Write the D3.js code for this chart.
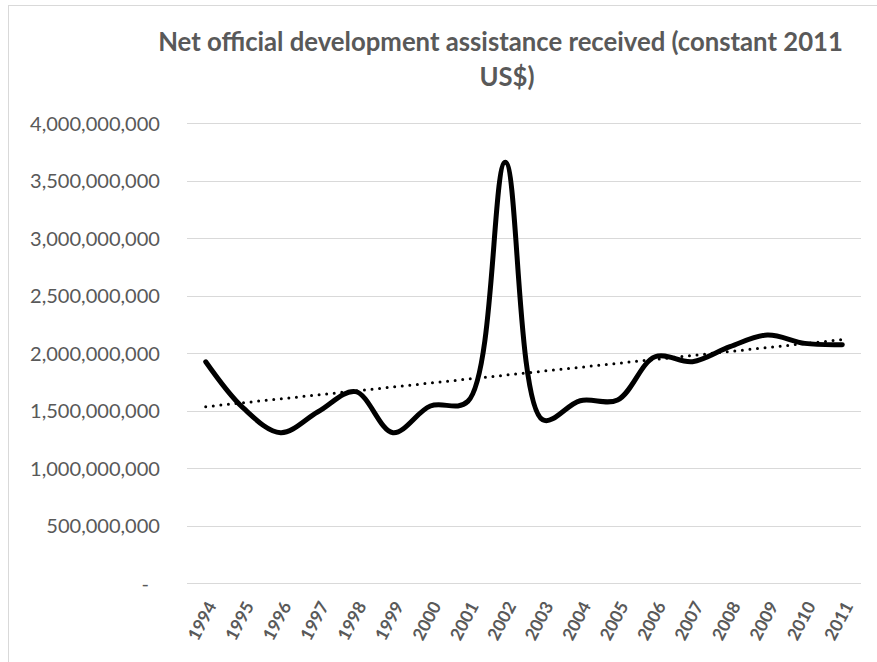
<!DOCTYPE html>
<html>
<head>
<meta charset="utf-8">
<script src="https://cdn.jsdelivr.net/npm/d3@7"></script>
<style>
  html, body { margin: 0; padding: 0; background: #fff; }
  svg { display: block; font-family: Lato, "Open Sans", sans-serif; }
</style>
</head>
<body>
<svg id="chart" width="877" height="662"></svg>
<script>
// Net ODA received, constant 2011 US$
const years = ["1994","1995","1996","1997","1998","1999","2000","2001","2002",
               "2003","2004","2005","2006","2007","2008","2009","2010","2011"];
const odaValues = [1925e6, 1523e6, 1308e6, 1490e6, 1665e6, 1308e6, 1540e6, 1580e6, 3660e6,
                   1420e6, 1586e6, 1592e6, 1969e6, 1926e6, 2056e6, 2158e6, 2085e6, 2074e6];
const yTicks = [0, 500e6, 1000e6, 1500e6, 2000e6, 2500e6, 3000e6, 3500e6, 4000e6];
const titleLines = ["Net official development assistance received (constant 2011", "US$)"];

const svg = d3.select("#chart");
const textColor = "#595959";
const fontFam = "Lato, 'Open Sans', sans-serif";

// chart area border
svg.append("rect")
  .attr("x", 8.5).attr("y", 5.5)
  .attr("width", 900).attr("height", 700)
  .attr("fill", "#fff").attr("stroke", "#d9d9d9").attr("stroke-width", 1);

const plot = { left: 187, right: 861, top: 123.3, bottom: 583 };

const x = d3.scaleBand().domain(years).range([plot.left, plot.right]);
const xc = d => x(d) + x.bandwidth() / 2;
const y = d3.scaleLinear().domain([0, 4000e6]).range([plot.bottom, plot.top]);

// gridlines
svg.append("g")
  .selectAll("line").data(yTicks).join("line")
  .attr("x1", plot.left).attr("x2", plot.right)
  .attr("y1", d => Math.round(y(d)) + 0.5).attr("y2", d => Math.round(y(d)) + 0.5)
  .attr("stroke", "#d9d9d9").attr("stroke-width", 1);

// y axis labels
const fmt = d3.format(",");
const yAxis = d3.axisLeft(y).tickValues(yTicks)
  .tickSize(0).tickPadding(0)
  .tickFormat(d => d === 0 ? "-" : fmt(d));
const yG = svg.append("g").attr("transform", `translate(160,0)`).call(yAxis);
yG.attr("font-family", null).attr("font-size", null);
yG.select(".domain").remove();
yG.selectAll("text")
  .style("fill", textColor)
  .style("font-family", fontFam)
  .style("font-size", "16px")
  .attr("dy", "0.35em");
// fit label width
{
  const node = yG.selectAll("text").filter(d => d === 4000e6).node();
  const w = node.getComputedTextLength();
  yG.selectAll("text").style("font-size", (16 * 130 / w) + "px");
}
yG.selectAll("text").filter(d => d === 0).attr("dx", -11);

// x axis labels, rotated
const xAxis = d3.axisBottom(x).tickSize(0).tickPadding(0);
const xG = svg.append("g").attr("transform", `translate(0,${plot.bottom})`).call(xAxis);
xG.attr("font-family", null).attr("font-size", null);
xG.select(".domain").remove();
xG.selectAll("text")
  .style("fill", textColor)
  .style("font-size", "17.5px")
  .style("font-weight", "bold")
  .style("font-family", fontFam)
  .attr("text-anchor", "end")
  .attr("y", 0)
  .attr("dy", "0.35em")
  .attr("transform", "translate(6,20) rotate(-62)");

// linear trend (least squares over category index)
const n = odaValues.length;
const idx = d3.range(n);
const mx = d3.mean(idx), my = d3.mean(odaValues);
const slope = d3.sum(idx, i => (i - mx) * (odaValues[i] - my)) / d3.sum(idx, i => (i - mx) ** 2);
const intercept = my - slope * mx;
const trend = idx.map(i => intercept + slope * i);

svg.append("path")
  .datum(trend)
  .attr("d", d3.line().x((d, i) => xc(years[i])).y(d => y(d)))
  .attr("fill", "none").attr("stroke", "#000")
  .attr("stroke-width", 3).attr("stroke-linecap", "round")
  .attr("stroke-dasharray", "0 7.6");

// smoothed data line
svg.append("path")
  .datum(odaValues)
  .attr("d", d3.line().curve(d3.curveCatmullRom.alpha(0.5))
    .x((d, i) => xc(years[i])).y(d => y(d)))
  .attr("fill", "none").attr("stroke", "#000")
  .attr("stroke-width", 5).attr("stroke-linecap", "round").attr("stroke-linejoin", "round");

// title
const title = svg.append("g")
  .style("fill", textColor).style("font-weight", "bold")
  .style("font-family", fontFam).style("font-size", "22px");
title.append("text").attr("x", 500.5).attr("y", 51).attr("text-anchor", "middle").text(titleLines[0]);
title.append("text").attr("x", 507).attr("y", 86).attr("text-anchor", "middle").text(titleLines[1]);

// fit title line 1 width
const t1 = title.select("text").node();
const w1 = t1.getComputedTextLength();
title.style("font-size", (22 * 685 / w1) + "px");
</script>
</body>
</html>
